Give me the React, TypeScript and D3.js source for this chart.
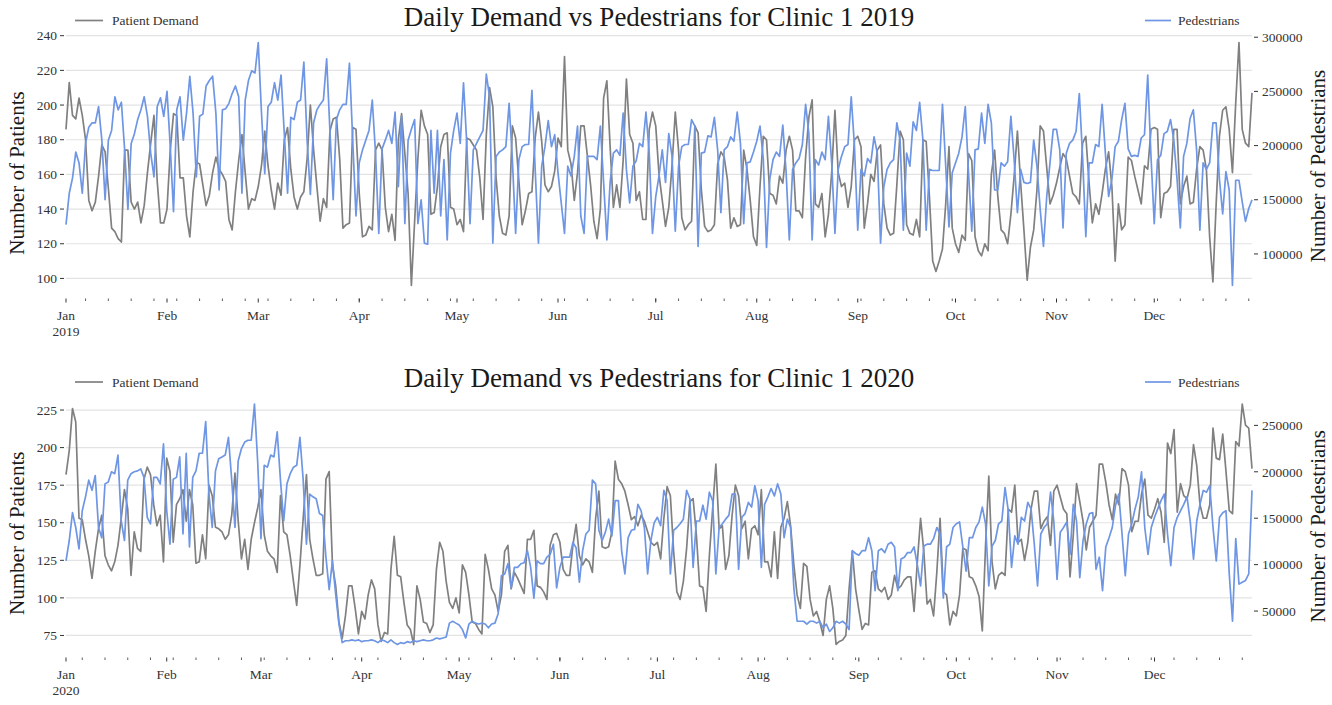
import React from 'react';
import * as d3 from 'd3';

// ---------- DATA ----------
const patients2019 = [
  186, 213, 194, 192, 204, 194, 180, 145, 139, 144,
  159, 177, 173, 152, 129, 127, 123, 121, 174, 174,
  144, 140, 144, 132, 142, 161, 178, 194, 156, 132,
  132, 140, 174, 195, 194, 158, 158, 136, 124, 150,
  167, 166, 154, 142, 148, 161, 170, 163, 160, 156,
  134, 128, 150, 168, 183, 161, 140, 146, 145, 153,
  165, 185, 165, 151, 140, 155, 148, 180, 187, 163,
  147, 140, 147, 150, 169, 200, 174, 153, 133, 146,
  141, 185, 192, 193, 169, 129, 131, 132, 187, 186,
  149, 124, 125, 130, 128, 174, 178, 174, 141, 127,
  137, 122, 180, 195, 172, 149, 96, 133, 169, 197,
  188, 183, 137, 138, 153, 176, 183, 184, 141, 140,
  131, 134, 127, 181, 180, 177, 174, 158, 134, 183,
  210, 199, 158, 136, 126, 125, 136, 188, 181, 156,
  131, 139, 149, 150, 181, 196, 179, 154, 150, 153,
  162, 181, 176, 228, 174, 166, 145, 161, 188, 188,
  171, 154, 133, 123, 140, 204, 214, 176, 141, 154,
  141, 168, 215, 183, 178, 145, 150, 134, 134, 186,
  196, 188, 160, 145, 130, 141, 165, 196, 174, 135,
  128, 131, 133, 188, 184, 151, 130, 127, 128, 131,
  166, 173, 170, 157, 129, 135, 130, 131, 174, 163,
  145, 124, 119, 153, 182, 180, 149, 148, 143, 159,
  155, 174, 182, 174, 139, 139, 135, 170, 193, 203,
  143, 141, 149, 124, 137, 161, 197, 161, 153, 155,
  141, 153, 180, 182, 176, 129, 143, 160, 156, 174,
  177, 143, 129, 125, 126, 154, 185, 180, 131, 126,
  125, 134, 124, 180, 179, 147, 110, 104, 110, 117,
  143, 176, 129, 120, 115, 125, 122, 172, 168, 124,
  116, 113, 120, 116, 160, 174, 147, 128, 126, 120,
  137, 159, 185, 155, 128, 99, 118, 128, 151, 188,
  185, 164, 143, 148, 155, 164, 172, 169, 159, 149,
  147, 143, 178, 182, 155, 132, 143, 137, 149, 163,
  173, 153, 110, 143, 128, 131, 170, 168, 159, 151,
  143, 165, 163, 186, 187, 186, 135, 149, 150, 153,
  186, 186, 143, 153, 159, 143, 144, 163, 176, 174,
  163, 124, 98, 143, 182, 197, 199, 186, 161, 201,
  236, 186, 178, 176, 207,
];

// pedestrians, in thousands
const pedestrians2019K = [
  127, 156, 170, 194, 184, 156, 202, 217, 221, 221,
  236, 205, 150, 205, 214, 245, 233, 240, 196, 141,
  202, 211, 224, 233, 245, 227, 193, 171, 236, 244,
  227, 250, 199, 139, 233, 245, 205, 230, 264, 230,
  171, 227, 229, 255, 260, 264, 230, 159, 233, 234,
  239, 248, 255, 245, 156, 242, 260, 269, 267, 295,
  230, 174, 236, 240, 258, 242, 265, 211, 156, 226,
  224, 240, 242, 277, 205, 155, 221, 233, 238, 242,
  280, 214, 150, 224, 233, 238, 238, 276, 205, 135,
  184, 196, 205, 214, 242, 193, 119, 197, 205, 214,
  202, 231, 162, 227, 128, 205, 215, 224, 128, 150,
  110, 109, 214, 156, 214, 135, 187, 113, 193, 214,
  230, 202, 258, 202, 128, 196, 202, 208, 214, 266,
  245, 110, 190, 194, 196, 199, 239, 187, 119, 187,
  199, 201, 201, 251, 178, 110, 181, 199, 223, 199,
  210, 175, 147, 119, 181, 172, 190, 218, 135, 119,
  190, 190, 190, 187, 218, 166, 113, 166, 193, 196,
  191, 230, 178, 147, 181, 186, 202, 199, 231, 193,
  119, 153, 172, 196, 166, 211, 190, 121, 181, 199,
  201, 201, 224, 218, 107, 193, 194, 209, 208, 226,
  196, 138, 196, 199, 208, 204, 231, 202, 128, 184,
  185, 194, 204, 218, 188, 106, 169, 187, 194, 190,
  219, 176, 113, 178, 184, 188, 201, 238, 211, 113,
  187, 182, 194, 187, 227, 184, 119, 178, 190, 199,
  201, 245, 199, 122, 178, 172, 188, 184, 208, 193,
  110, 162, 178, 184, 187, 221, 205, 122, 193, 181,
  222, 214, 240, 205, 122, 178, 177, 177, 177, 238,
  181, 125, 175, 184, 193, 208, 236, 175, 121, 196,
  197, 230, 202, 238, 221, 159, 159, 184, 181, 185,
  227, 187, 138, 178, 166, 165, 166, 205, 181, 141,
  107, 153, 184, 215, 215, 196, 124, 193, 202, 205,
  213, 248, 190, 116, 184, 184, 201, 199, 238, 193,
  153, 169, 199, 204, 224, 239, 197, 190, 191, 190,
  207, 210, 265, 190, 128, 187, 191, 211, 213, 224,
  205, 169, 124, 190, 202, 225, 233, 196, 122, 184,
  178, 184, 221, 221, 169, 137, 176, 159, 71, 168,
  168, 148, 130, 142, 150,
];

const patients2020 = [
  182, 198, 226, 217, 153, 152, 139, 128, 113, 131,
  146, 155, 128, 122, 118, 124, 135, 153, 172, 159,
  115, 144, 133, 131, 179, 187, 182, 162, 148, 155,
  124, 193, 184, 137, 162, 166, 172, 151, 172, 162,
  123, 124, 142, 126, 175, 168, 147, 146, 144, 139,
  142, 155, 183, 151, 126, 139, 119, 139, 150, 160,
  172, 142, 131, 128, 126, 117, 168, 144, 142, 128,
  111, 95, 122, 153, 182, 139, 126, 115, 115, 116,
  179, 184, 122, 108, 84, 73, 88, 108, 108, 93,
  76, 91, 86, 102, 112, 106, 82, 71, 77, 76,
  119, 141, 115, 114, 97, 82, 79, 69, 108, 99,
  84, 83, 77, 82, 119, 137, 131, 111, 97, 93,
  100, 90, 122, 117, 102, 84, 83, 79, 76, 129,
  119, 106, 102, 91, 102, 131, 135, 106, 117, 113,
  108, 103, 139, 139, 145, 108, 107, 104, 99, 135,
  142, 143, 137, 119, 115, 115, 135, 149, 128, 122,
  126, 124, 117, 153, 171, 134, 133, 134, 144, 191,
  179, 176, 171, 162, 152, 154, 148, 155, 151, 144,
  137, 135, 137, 126, 153, 174, 168, 131, 104, 99,
  111, 133, 164, 166, 142, 108, 107, 91, 128, 159,
  189, 146, 148, 119, 128, 155, 175, 168, 146, 151,
  126, 146, 148, 142, 172, 124, 124, 114, 144, 113,
  147, 153, 164, 148, 122, 102, 93, 123, 121, 99,
  88, 91, 84, 75, 99, 108, 93, 69, 71, 72,
  75, 106, 131, 106, 92, 79, 83, 82, 117, 118,
  106, 104, 107, 99, 102, 115, 106, 108, 112, 114,
  114, 91, 124, 153, 131, 96, 99, 88, 117, 153,
  104, 102, 82, 91, 88, 102, 133, 132, 114, 113,
  108, 101, 78, 135, 181, 124, 106, 115, 117, 115,
  159, 157, 175, 137, 139, 125, 137, 159, 171, 171,
  146, 151, 154, 135, 171, 175, 167, 159, 156, 114,
  142, 176, 164, 151, 132, 147, 151, 155, 189, 189,
  177, 162, 152, 169, 162, 186, 184, 175, 144, 151,
  151, 169, 179, 155, 153, 159, 166, 157, 137, 203,
  196, 212, 157, 176, 168, 166, 175, 202, 188, 162,
  153, 153, 162, 213, 193, 192, 209, 184, 158, 156,
  204, 201, 229, 215, 213, 186,
];

// pedestrians, in thousands
const pedestrians2020K = [
  104, 126, 156, 140, 117, 158, 173, 191, 180, 196,
  140, 129, 187, 189, 200, 198, 218, 147, 126, 191,
  198, 200, 201, 203, 194, 151, 144, 194, 194, 187,
  230, 158, 122, 192, 194, 216, 133, 220, 119, 194,
  201, 220, 220, 254, 176, 140, 201, 214, 216, 218,
  237, 191, 140, 212, 225, 232, 234, 234, 273, 210,
  128, 207, 205, 218, 216, 243, 191, 147, 187, 198,
  205, 207, 237, 191, 122, 176, 173, 171, 155, 153,
  108, 73, 104, 68, 36, 16, 18, 18, 19, 18,
  19, 17, 18, 18, 19, 18, 16, 19, 18, 16,
  19, 16, 14, 16, 15, 17, 16, 18, 17, 18,
  19, 18, 18, 19, 21, 20, 21, 22, 37, 39,
  37, 35, 30, 21, 36, 39, 37, 36, 37, 36,
  32, 36, 37, 47, 88, 90, 101, 75, 97, 97,
  101, 102, 115, 97, 64, 104, 101, 101, 108, 111,
  122, 75, 97, 108, 108, 108, 124, 118, 81, 115,
  133, 137, 191, 187, 137, 126, 135, 149, 131, 169,
  169, 115, 90, 129, 137, 138, 165, 158, 140, 90,
  126, 145, 151, 142, 180, 169, 90, 137, 140, 144,
  149, 180, 171, 97, 147, 147, 164, 149, 178, 169,
  90, 140, 144, 149, 153, 176, 176, 95, 151, 155,
  167, 162, 185, 169, 97, 165, 173, 182, 174, 187,
  176, 129, 149, 140, 75, 39, 39, 39, 36, 39,
  39, 37, 39, 32, 36, 28, 32, 39, 37, 39,
  36, 30, 115, 112, 110, 115, 115, 129, 115, 72,
  115, 117, 113, 122, 124, 119, 72, 106, 108, 113,
  113, 119, 100, 77, 120, 122, 122, 128, 140, 133,
  64, 119, 122, 140, 144, 146, 119, 93, 129, 129,
  140, 146, 162, 144, 77, 120, 126, 144, 147, 183,
  158, 97, 131, 122, 151, 147, 167, 160, 122, 77,
  133, 140, 144, 178, 147, 84, 135, 140, 146, 111,
  165, 147, 86, 126, 144, 155, 156, 95, 108, 72,
  119, 129, 140, 164, 176, 133, 88, 133, 144, 160,
  173, 200, 140, 111, 140, 151, 160, 169, 176, 133,
  99, 140, 151, 158, 165, 173, 146, 106, 147, 165,
  180, 178, 185, 140, 104, 151, 156, 158, 90, 39,
  128, 79, 81, 83, 90, 180,
];

const leftTicks2019 = [100, 120, 140, 160, 180, 200, 220, 240];
const rightTicks2019 = [100000, 150000, 200000, 250000, 300000];
const leftTicks2020 = [75, 100, 125, 150, 175, 200, 225];
const rightTicks2020 = [50000, 100000, 150000, 200000, 250000];

const seriesNames = ['Patient Demand', 'Pedestrians'];
const leftAxisLabel = 'Number of Patients';
const rightAxisLabel = 'Number of Pedestrians';
const titlePrefix = 'Daily Demand vs Pedestrians for Clinic 1';

// ---------- STYLE ----------
const W = 1332;
const H = 705;
const X0 = 66;
const X1 = 1252;
const FONT = '"Liberation Serif", "DejaVu Serif", serif';
const GRAY = '#808080';
const BLUE = '#6e96e4';
const TEXT = '#333333';
const GRID = '#e3e3e3';

type PanelProps = {
  year: number;
  patients: number[];
  pedsK: number[];
  leftTicks: number[];
  rightTicks: number[];
  top: number;
  bottom: number;
};

function padExtent(values: number[]): [number, number] {
  const [lo, hi] = d3.extent(values) as [number, number];
  const r = hi - lo;
  return [lo - 0.05 * r, hi + 0.05 * r];
}

function Panel({ year, patients, pedsK, leftTicks, rightTicks, top, bottom }: PanelProps) {
  const start = new Date(Date.UTC(year, 0, 1));
  const dates = patients.map((_, i) => d3.utcDay.offset(start, i));
  const end = dates[dates.length - 1];
  const peds = pedsK.map((v) => v * 1000);

  const x = d3.scaleUtc().domain([start, end]).range([X0, X1]);
  const yL = d3.scaleLinear().domain(padExtent(patients)).range([bottom, top]);
  const yR = d3.scaleLinear().domain(padExtent(peds)).range([bottom, top]);

  const lineL = d3
    .line<number>()
    .x((_, i) => x(dates[i]))
    .y((d) => yL(d));
  const lineR = d3
    .line<number>()
    .x((_, i) => x(dates[i]))
    .y((d) => yR(d));

  const months = d3.utcMonth.range(start, d3.utcDay.offset(end, 1));
  const weeks = d3.utcMonday.range(start, d3.utcDay.offset(end, 1));
  const fmtMonth = d3.utcFormat('%b');

  const legendY = top - 10;
  const mid = (top + bottom) / 2;

  return (
    <g>
      {/* title */}
      <text
        x={(X0 + X1) / 2}
        y={top - 5}
        textAnchor="middle"
        fontFamily={FONT}
        fontSize={27}
        fill="#1a1a1a"
      >
        {`${titlePrefix} ${year}`}
      </text>

      {/* gridlines */}
      {leftTicks.map((t) => (
        <line key={'g' + t} x1={X0} x2={X1} y1={yL(t)} y2={yL(t)} stroke={GRID} strokeWidth={1.2} />
      ))}

      {/* left ticks */}
      {leftTicks.map((t) => (
        <g key={'l' + t}>
          <line x1={X0 - 6} x2={X0 - 2} y1={yL(t)} y2={yL(t)} stroke={TEXT} strokeWidth={1} />
          <text
            x={X0 - 9}
            y={yL(t)}
            dy="0.35em"
            textAnchor="end"
            fontFamily={FONT}
            fontSize={13.5}
            fill={TEXT}
          >
            {t}
          </text>
        </g>
      ))}

      {/* right ticks */}
      {rightTicks.map((t) => (
        <g key={'r' + t}>
          <line x1={X1 + 2} x2={X1 + 6} y1={yR(t)} y2={yR(t)} stroke={TEXT} strokeWidth={1} />
          <text
            x={X1 + 10}
            y={yR(t)}
            dy="0.35em"
            textAnchor="start"
            fontFamily={FONT}
            fontSize={13.5}
            fill={TEXT}
          >
            {t}
          </text>
        </g>
      ))}

      {/* x minor ticks */}
      {weeks.map((d) => (
        <line
          key={'w' + d.getTime()}
          x1={x(d)}
          x2={x(d)}
          y1={bottom + 1}
          y2={bottom + 3.5}
          stroke={TEXT}
          strokeWidth={0.8}
        />
      ))}
      {/* x major ticks + labels */}
      {months.map((d, i) => (
        <g key={'m' + d.getTime()}>
          <line x1={x(d)} x2={x(d)} y1={bottom + 1} y2={bottom + 5} stroke={TEXT} strokeWidth={1} />
          <text
            x={x(d)}
            y={bottom + 22}
            textAnchor="middle"
            fontFamily={FONT}
            fontSize={13.5}
            fill={TEXT}
          >
            {fmtMonth(d)}
          </text>
          {i === 0 && (
            <text
              x={x(d)}
              y={bottom + 38}
              textAnchor="middle"
              fontFamily={FONT}
              fontSize={13.5}
              fill={TEXT}
            >
              {year}
            </text>
          )}
        </g>
      ))}

      {/* series */}
      <path d={lineL(patients) || ''} fill="none" stroke={GRAY} strokeWidth={1.7} strokeLinejoin="round" />
      <path d={lineR(peds) || ''} fill="none" stroke={BLUE} strokeWidth={1.7} strokeLinejoin="round" />

      {/* axis labels */}
      <text
        transform={`translate(24, ${mid + 9}) rotate(-90)`}
        textAnchor="middle"
        fontFamily={FONT}
        fontSize={21}
        fill="#1a1a1a"
      >
        {leftAxisLabel}
      </text>
      <text
        transform={`translate(1325, ${mid + 2}) rotate(-90)`}
        textAnchor="middle"
        fontFamily={FONT}
        fontSize={21}
        fill="#1a1a1a"
      >
        {rightAxisLabel}
      </text>

      {/* legends */}
      <line x1={75} x2={103} y1={legendY} y2={legendY} stroke={GRAY} strokeWidth={1.7} />
      <text x={112} y={legendY} dy="0.35em" fontFamily={FONT} fontSize={13.5} fill={TEXT}>
        {seriesNames[0]}
      </text>
      <line x1={1145} x2={1171} y1={legendY} y2={legendY} stroke={BLUE} strokeWidth={1.7} />
      <text x={1178} y={legendY} dy="0.35em" fontFamily={FONT} fontSize={13.5} fill={TEXT}>
        {seriesNames[1]}
      </text>
    </g>
  );
}

export default function App() {
  return (
    <svg
      width={W}
      height={H}
      viewBox={`0 0 ${W} ${H}`}
      style={{ position: 'absolute', left: 0, top: 0, background: '#ffffff' }}
    >
      <rect x={0} y={0} width={W} height={H} fill="#ffffff" />
      <Panel
        year={2019}
        patients={patients2019}
        pedsK={pedestrians2019K}
        leftTicks={leftTicks2019}
        rightTicks={rightTicks2019}
        top={30.5}
        bottom={297.5}
      />
      <Panel
        year={2020}
        patients={patients2020}
        pedsK={pedestrians2020K}
        leftTicks={leftTicks2020}
        rightTicks={rightTicks2020}
        top={392}
        bottom={656.5}
      />
    </svg>
  );
}
